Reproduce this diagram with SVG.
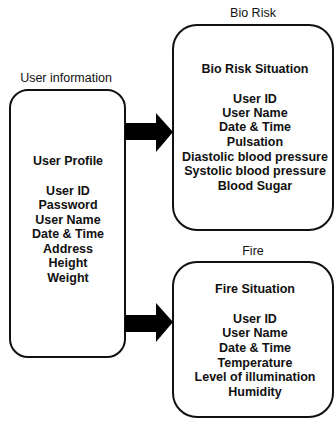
<svg xmlns="http://www.w3.org/2000/svg" width="335" height="421" viewBox="0 0 335 421">
<style>
.box{fill:#fff;stroke:#111;stroke-width:2}
.t{font-family:"Liberation Sans",Arial,sans-serif;font-size:12.5px;font-weight:bold;fill:#111;text-anchor:middle}
.lbl{font-family:"Liberation Sans",Arial,sans-serif;font-size:12.5px;fill:#111;text-anchor:middle}
.arrow{fill:#000}
</style>
<rect width="335" height="421" fill="#fff"/>
<g id="user-info">
<text class="lbl" x="66" y="82">User information</text>
<rect class="box" x="10" y="90" width="115" height="267" rx="18"/>
<text class="t" x="68" y="164.5">User Profile</text>
<text class="t" x="68" y="194.5">User ID</text>
<text class="t" x="68" y="208.5">Password</text>
<text class="t" x="68" y="223.5">User Name</text>
<text class="t" x="68" y="238">Date &amp; Time</text>
<text class="t" x="68" y="252.5">Address</text>
<text class="t" x="68" y="267">Height</text>
<text class="t" x="68" y="281.5">Weight</text>
</g>
<g id="bio-risk">
<text class="lbl" x="253" y="16.5">Bio Risk</text>
<rect class="box" x="173" y="25" width="160" height="205" rx="24"/>
<text class="t" x="255" y="72.5">Bio Risk Situation</text>
<text class="t" x="255" y="102.5">User ID</text>
<text class="t" x="255" y="116.5">User Name</text>
<text class="t" x="255" y="131">Date &amp; Time</text>
<text class="t" x="255" y="145.5">Pulsation</text>
<text class="t" x="255" y="160.5">Diastolic blood pressure</text>
<text class="t" x="255" y="175">Systolic blood pressure</text>
<text class="t" x="255" y="189.5">Blood Sugar</text>
</g>
<g id="fire">
<text class="lbl" x="253" y="254.5">Fire</text>
<rect class="box" x="173" y="262" width="160" height="155" rx="24"/>
<text class="t" x="255" y="292.5">Fire Situation</text>
<text class="t" x="255" y="322.5">User ID</text>
<text class="t" x="255" y="337">User Name</text>
<text class="t" x="255" y="351.5">Date &amp; Time</text>
<text class="t" x="255" y="366.5">Temperature</text>
<text class="t" x="255" y="381">Level of illumination</text>
<text class="t" x="255" y="396">Humidity</text>
</g>
<g id="connectors">
<polygon class="arrow" points="125,123 156,123 156,113 173,132 156,152 156,140 125,140"/>
<polygon class="arrow" points="125,315 156,315 156,303 173,322 156,342 156,332 125,332"/>
</g>
</svg>
